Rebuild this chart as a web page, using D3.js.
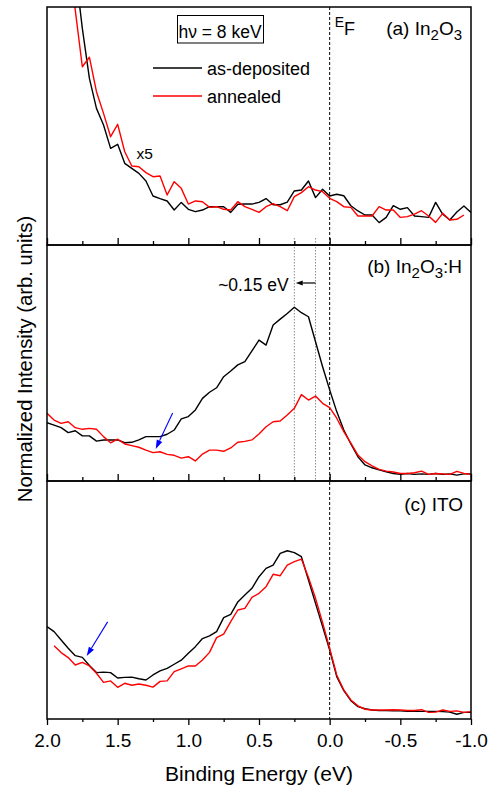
<!DOCTYPE html>
<html>
<head>
<meta charset="utf-8">
<script src="https://cdn.jsdelivr.net/npm/d3@7"></script>
<style>
  body { margin: 0; background: #fff; }
  svg { font-family: "Liberation Sans", Arial, sans-serif; }
</style>
</head>
<body>
<div id="wrapper"></div>
<script>
// DATA -- binding energy grid (eV), 0.05 eV steps
const energy = [
  2.0, 1.95, 1.9, 1.85, 1.8, 1.75, 1.7, 1.65, 1.6, 1.55,
  1.5, 1.45, 1.4, 1.35, 1.3, 1.25, 1.2, 1.15, 1.1, 1.05,
  1.0, 0.95, 0.9, 0.85, 0.8, 0.75, 0.7, 0.65, 0.6, 0.55,
  0.5, 0.45, 0.4, 0.35, 0.3, 0.25, 0.2, 0.15, 0.1, 0.05,
  0.0, -0.05, -0.1, -0.15, -0.2, -0.25, -0.3, -0.35, -0.4, -0.45,
  -0.5, -0.55, -0.6, -0.65, -0.7, -0.75, -0.8, -0.85, -0.9, -0.95,
  -1.0
]

// (a) In2O3, x5 magnified
const in2o3Dep = [
  300, 230, 180, 145, 116, 91.0, 70.0, 57.4, 50.4, 40.6,
  42.3, 34.3, 32.2, 30.1, 26.9, 20.6, 19.5, 18.5, 14.7, 17.9,
  15.0, 14.0, 14.7, 16.1, 16.1, 16.1, 13.7, 17.1, 17.2, 17.2,
  17.9, 19.5, 16.9, 16.9, 18.0, 22.7, 23.1, 26.9, 19.9, 23.4,
  20.6, 21.3, 20.7, 16.5, 14.3, 12.6, 12.6, 9.4, 11.6, 16.5,
  15.0, 15.7, 12.2, 11.9, 11.6, 17.9, 12.9, 10.5, 13.9, 16.4,
  13.7
]
const in2o3Ann = [
  240, 190, 155, 125, 98.7, 74.9, 78.9, 64.4, 55.3, 45.5,
  50.7, 39.2, 33.2, 32.9, 30.4, 28.7, 29.0, 21.0, 26.6, 23.8,
  17.2, 18.5, 18.2, 15.8, 16.1, 15.0, 14.7, 18.2, 16.1, 15.0,
  13.7, 16.1, 17.4, 16.1, 14.4, 20.3, 22.0, 24.5, 23.1, 22.4,
  19.6, 18.2, 16.1, 15.8, 12.2, 12.2, 12.2, 16.1, 14.7, 14.7,
  11.6, 11.9, 13.0, 14.4, 12.2, 9.5, 13.3, 10.5, 10.8, 12.6,
  null
]

// (b) In2O3:H
const ioHDep = [
  24.7, 23.7, 22.6, 20.5, 21.3, 19.1, 19.1, 16.9, 17.4, 17.4,
  17.4, 16.2, 16.4, 17.4, 18.8, 18.8, 18.8, 19.8, 21.6, 26.3,
  27.3, 30.1, 35.0, 37.6, 39.5, 44.2, 46.6, 49.2, 50.6, 55.1,
  59.7, 57.6, 66.1, 68.6, 71.0, 73.6, 71.3, 69.6, 59.0, 48.4,
  38.6, 29.4, 21.6, 15.7, 10.3, 6.8, 5.6, 4.7, 3.9, 3.2,
  2.8, 3.2, 2.8, 3.0, 2.8, 3.2, 2.8, 3.0, 2.5, 3.0,
  3.0
]
const ioHAnn = [
  28.7, 25.8, 24.4, 25.1, 22.6, 21.9, 22.3, 21.9, 18.8, 16.2,
  17.7, 15.7, 15.0, 14.3, 13.1, 12.0, 12.4, 11.3, 10.9, 9.7,
  10.3, 8.5, 11.4, 13.1, 13.1, 12.6, 14.0, 16.4, 16.8, 17.4,
  19.9, 23.0, 25.1, 25.4, 28.0, 30.8, 36.6, 34.3, 36.0, 32.9,
  31.1, 26.6, 20.9, 16.0, 11.0, 8.2, 6.4, 4.9, 4.2, 3.8,
  3.2, 3.2, 3.5, 4.2, 2.8, 3.2, 3.0, 2.8, 4.1, 3.2,
  2.8
]

// (c) ITO
const itoDep = [
  38.8, 36.7, 33.2, 29.7, 26.6, 25.9, 22.5, 19.5, 19.7, 19.5,
  17.2, 17.5, 17.6, 16.9, 16.4, 18.5, 20.2, 21.3, 23.0, 24.7,
  27.6, 30.4, 33.8, 34.9, 36.7, 42.6, 44.0, 49.2, 52.1, 54.9,
  59.8, 63.3, 64.7, 69.6, 70.7, 69.9, 68.2, 58.4, 48.6, 38.8,
  29.0, 17.8, 11.9, 7.7, 5.2, 4.3, 3.8, 3.5, 3.5, 3.4,
  3.4, 3.2, 3.2, 3.2, 3.2, 3.2, 3.1, 2.9, 2.0, 2.8,
  2.8
]
const itoAnn = [
  null, 30.8, 27.9, 25.8, 22.7, 23.8, 22.3, 19.2, 15.4, 16.0,
  13.3, 15.0, 14.2, 14.7, 14.2, 13.4, 15.8, 16.0, 19.9, 21.1,
  22.3, 22.3, 24.8, 28.0, 34.2, 35.7, 40.9, 45.8, 46.5, 51.1,
  52.8, 55.6, 60.8, 60.2, 64.7, 66.1, 67.2, 59.5, 50.7, 40.5,
  29.7, 18.5, 12.2, 8.0, 5.5, 4.1, 3.8, 3.8, 3.8, 3.9,
  3.8, 3.6, 3.6, 3.9, 2.8, 2.9, 3.8, 3.2, 3.4, 2.8,
  3.1
]

const majorTicks = [2.0, 1.5, 1.0, 0.5, 0.0, -0.5, -1.0]
const minorTicks = [1.75, 1.25, 0.75, 0.25, -0.25, -0.75]
const seriesNames = ["as-deposited", "annealed"]
const seriesColors = ["#000000", "#ff0000"]

// DIMENSIONS
const width = 488
const height = 789
const left = 47
const right = 471

const panels = [
  { id: "a", top: 7, bottom: 245, dep: in2o3Dep, ann: in2o3Ann },
  { id: "b", top: 245, bottom: 481, dep: ioHDep, ann: ioHAnn },
  { id: "c", top: 481, bottom: 719, dep: itoDep, ann: itoAnn }
]

const svg = d3.select("#wrapper")
  .append("svg")
  .attr("width", width)
  .attr("height", height)

const xScale = d3.scaleLinear()
  .domain([2, -1])
  .range([left, right])

panels.forEach(p => {
  p.yScale = d3.scaleLinear().domain([0, 100]).range([p.bottom, p.top])
})

const defs = svg.append("defs")
panels.forEach(p => {
  defs.append("clipPath").attr("id", "clip-" + p.id)
    .append("rect")
    .attr("x", left).attr("y", p.top)
    .attr("width", right - left).attr("height", p.bottom - p.top)
})

// E_F dashed line through all panels
svg.append("line")
  .attr("x1", xScale(0)).attr("x2", xScale(0))
  .attr("y1", panels[0].top).attr("y2", panels[2].bottom)
  .attr("stroke", "#000")
  .attr("stroke-width", 1)
  .attr("stroke-dasharray", "3,2")

// grey guides in panel (b): peak positions
const pb = panels[1]
;[0.25, 0.10].forEach(e => {
  svg.append("line")
    .attr("x1", xScale(e)).attr("x2", xScale(e))
    .attr("y1", pb.top - 7).attr("y2", pb.bottom)
    .attr("stroke", "#8c8c8c")
    .attr("stroke-width", 1)
    .attr("stroke-dasharray", "1.5,1.5")
})

// CURVES
panels.forEach(p => {
  const g = svg.append("g").attr("clip-path", `url(#clip-${p.id})`)
  const line = d3.line()
    .defined(d => d[1] != null)
    .x(d => xScale(d[0]))
    .y(d => p.yScale(d[1]))
  ;[p.dep, p.ann].forEach((vals, i) => {
    g.append("path")
      .datum(energy.map((e, j) => [e, vals[j]]))
      .attr("fill", "none")
      .attr("stroke", seriesColors[i])
      .attr("stroke-width", 1.4)
      .attr("stroke-linejoin", "round")
      .attr("d", line)
  })
})

// FRAMES + TICKS
panels.forEach((p, i) => {
  svg.append("rect")
    .attr("x", left).attr("y", p.top)
    .attr("width", right - left).attr("height", p.bottom - p.top)
    .attr("fill", "none")
    .attr("stroke", "#000")
    .attr("stroke-width", 1.5)

  const last = i === panels.length - 1
  const major = (last ? d3.axisBottom(xScale).tickSize(6) : d3.axisTop(xScale).tickSize(7))
    .tickValues(majorTicks)
    .tickFormat(last ? d => d.toFixed(1) : "")
    .tickPadding(9)
  const minor = (last ? d3.axisBottom(xScale).tickSize(3) : d3.axisTop(xScale).tickSize(4))
    .tickValues(minorTicks)
    .tickFormat("")

  ;[major, minor].forEach(ax => {
    const ga = svg.append("g")
      .attr("transform", `translate(0,${p.bottom})`)
      .call(ax)
    ga.select(".domain").remove()
    ga.selectAll(".tick line").attr("stroke-width", 1.3)
    ga.selectAll("text")
      .attr("font-family", "Liberation Sans, Arial, sans-serif")
      .attr("font-size", 19)
      .attr("fill", "#000")
  })
})

// AXIS TITLES
svg.append("text")
  .attr("x", xScale(0.5))
  .attr("y", 781)
  .attr("text-anchor", "middle")
  .attr("font-size", 21)
  .text("Binding Energy (eV)")

svg.append("text")
  .attr("transform", `translate(32,${(panels[0].top + panels[2].bottom) / 2 - 4}) rotate(-90)`)
  .attr("text-anchor", "middle")
  .attr("font-size", 20.3)
  .text("Normalized Intensity (arb. units)")

// PANEL LABELS
const pa = panels[0], pc = panels[2]
const labelA = svg.append("text")
  .attr("x", 462).attr("y", 35)
  .attr("text-anchor", "end")
  .attr("font-size", 19)
labelA.append("tspan").text("(a) In")
labelA.append("tspan").attr("dy", 5).attr("font-size", 15).text("2")
labelA.append("tspan").attr("dy", -5).text("O")
labelA.append("tspan").attr("dy", 5).attr("font-size", 15).text("3")

const labelB = svg.append("text")
  .attr("x", 462).attr("y", 273)
  .attr("text-anchor", "end")
  .attr("font-size", 19)
labelB.append("tspan").text("(b) In")
labelB.append("tspan").attr("dy", 5).attr("font-size", 15).text("2")
labelB.append("tspan").attr("dy", -5).text("O")
labelB.append("tspan").attr("dy", 5).attr("font-size", 15).text("3")
labelB.append("tspan").attr("dy", -5).text(":H")

svg.append("text")
  .attr("x", 463).attr("y", 511)
  .attr("text-anchor", "end")
  .attr("font-size", 19)
  .text("(c) ITO")

// E_F label
const ef = svg.append("text")
  .attr("x", xScale(0) + 5).attr("y", 27)
  .attr("font-size", 14)
ef.append("tspan").text("E")
ef.append("tspan").attr("dy", 8).attr("font-size", 18).text("F")

// photon energy box
svg.append("rect")
  .attr("x", 177.5).attr("y", 15.5)
  .attr("width", 86).attr("height", 27.5)
  .attr("fill", "none")
  .attr("stroke", "#000")
  .attr("stroke-width", 1)
svg.append("text")
  .attr("x", 220).attr("y", 37.5)
  .attr("text-anchor", "middle")
  .attr("font-size", 17.5)
  .text("hν = 8 keV")

// LEGEND
seriesNames.forEach((name, i) => {
  const y = 68 + i * 28
  svg.append("line")
    .attr("x1", 153).attr("x2", 202)
    .attr("y1", y).attr("y2", y)
    .attr("stroke", seriesColors[i])
    .attr("stroke-width", 1.5)
  svg.append("text")
    .attr("x", 207).attr("y", y + 7)
    .attr("font-size", 18)
    .text(name)
})

// x5 magnification note
svg.append("text")
  .attr("x", xScale(1.366)).attr("y", pa.yScale(36.1))
  .attr("font-size", 15.5)
  .text("x5")

// ~0.15 eV shift annotation
svg.append("text")
  .attr("x", xScale(0.29)).attr("y", pb.yScale(80.5))
  .attr("text-anchor", "end")
  .attr("font-size", 17.5)
  .text("~0.15 eV")

function arrow(x1, y1, x2, y2, color, headLen, headW, sw) {
  const ang = Math.atan2(y2 - y1, x2 - x1)
  const bx = x2 - headLen * Math.cos(ang)
  const by = y2 - headLen * Math.sin(ang)
  const nx = -Math.sin(ang) * headW / 2
  const ny = Math.cos(ang) * headW / 2
  svg.append("line")
    .attr("x1", x1).attr("y1", y1).attr("x2", bx).attr("y2", by)
    .attr("stroke", color).attr("stroke-width", sw)
  svg.append("path")
    .attr("d", `M${x2},${y2}L${bx + nx},${by + ny}L${bx - nx},${by - ny}Z`)
    .attr("fill", color)
}

arrow(xScale(0.10), pb.yScale(83.9), xScale(0.24), pb.yScale(83.9), "#000", 7, 5, 1.2)
arrow(xScale(1.111), pb.yScale(28.8), xScale(1.231), pb.yScale(13.6), "#0000ff", 9, 6, 1.1)
arrow(xScale(1.571), pc.yScale(40.8), xScale(1.719), pc.yScale(26.5), "#0000ff", 9, 6, 1.1)
</script>
</body>
</html>
